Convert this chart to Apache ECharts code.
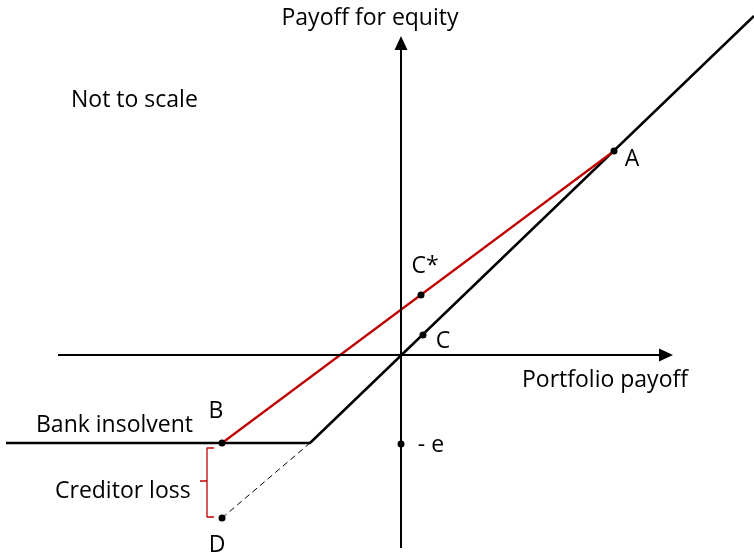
<!DOCTYPE html>
<html><head><meta charset="utf-8">
<script src="https://cdn.jsdelivr.net/npm/echarts@6/dist/echarts.min.js"></script>
<style>html,body{margin:0;padding:0;background:#fff}#c{width:754px;height:556px}</style>
</head><body><div id="c"></div>
<script>
// Schematic data (not to scale), origin at axes intersection
const xRange = [-40.1, 35.3];
const yRange = [-20.1, 35.5];
const equityPayoff = [[-39.5, -8.8], [-9.1, -8.8], [35.3, 33.9]];
const redPayoff = [[-17.9, -8.8], [21.3, 20.4]];
const creditorLossLine = [[-17.9, -16.3], [-9.1, -8.8]];
const braceLine = [[-18.7, -9.3], [-19.4, -9.3], [-19.4, -12.6], [-20.1, -12.6], [-19.4, -12.6], [-19.4, -16.2], [-18.7, -16.2]];
const xAxisSeg = [[-34.3, 0], [26.5, 0]];
const yAxisSeg = [[0, -19.3], [0, 31.2]];
const pointNames = ['A', 'C*', 'C', 'B', 'D', '- e'];
const pointCoords = [[21.3, 20.4], [2.0, 6.0], [2.2, 2.0], [-17.9, -8.8], [-17.9, -16.3], [0, -8.9]];
const pointLabelOffsets = [[18, 8], [4, -29], [20, 6], [-6, -32], [-5, 27], [30, 1]];

const FONT = '"Open Sans", sans-serif';
const FS = 23;
const chart = echarts.init(document.getElementById('c'), null, {renderer: 'canvas'});
const txt = (t, x, y, align) => ({type: 'text', x: x, y: y,
  style: {text: t, fill: '#000', font: FS + 'px ' + FONT, textAlign: align || 'left', textVerticalAlign: 'middle'}});
chart.setOption({
  animation: false,
  grid: {left: 0, right: 0, top: 0, bottom: 0},
  xAxis: {type: 'value', min: xRange[0], max: xRange[1], show: false},
  yAxis: {type: 'value', min: yRange[0], max: yRange[1], show: false},
  series: [
    {type: 'line', data: [], silent: true,
      markLine: {silent: true, symbol: ['none', 'triangle'], symbolSize: [13, 14], label: {show: false},
        lineStyle: {color: '#000', width: 2, type: 'solid'},
        data: [[{coord: xAxisSeg[0]}, {coord: xAxisSeg[1]}], [{coord: yAxisSeg[0]}, {coord: yAxisSeg[1]}]]}},
    {type: 'line', data: equityPayoff, symbol: 'none', lineStyle: {color: '#000', width: 2.5}, z: 3},
    {type: 'line', data: redPayoff, symbol: 'none', lineStyle: {color: '#c00000', width: 2.2}, z: 4},
    {type: 'line', data: creditorLossLine, symbol: 'none', lineStyle: {color: '#000', width: 1, type: [6, 4]}, z: 3},
    {type: 'line', data: braceLine, symbol: 'none', lineStyle: {color: '#c00000', width: 1.3}, z: 3},
    {type: 'scatter', symbol: 'circle', symbolSize: 7, itemStyle: {color: '#000', opacity: 1}, z: 5,
      data: pointCoords.map((c, i) => ({value: c, name: pointNames[i],
        label: {show: true, position: 'inside', offset: pointLabelOffsets[i], formatter: pointNames[i],
          color: '#000', opacity: 1, fontSize: FS, fontFamily: FONT}}))}
  ],
  graphic: [
    txt('Payoff for equity', 370, 18, 'center'),
    txt('Not to scale', 71, 100),
    txt('Portfolio payoff', 522, 380),
    txt('Bank insolvent', 36, 425),
    txt('Creditor loss', 55, 491)
  ]
});
</script></body></html>
